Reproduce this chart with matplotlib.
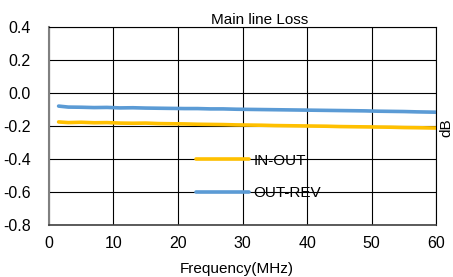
import numpy as np
import matplotlib.pyplot as plt

plt.rcParams['font.family'] = ['Liberation Sans', 'DejaVu Sans']

# 읽어낸 값 (MHz, dB)
freq = [1.5, 3, 5, 7, 9, 11, 13, 15, 17, 19, 21, 23, 25, 27, 29, 31, 33, 35,
        37, 39, 41, 43, 45, 47, 49, 51, 53, 55, 57, 60]
in_out = [-0.176, -0.180, -0.178, -0.181, -0.180, -0.183, -0.184, -0.183, -0.186,
          -0.187, -0.188, -0.190, -0.191, -0.192, -0.194, -0.195, -0.196, -0.198,
          -0.199, -0.200, -0.201, -0.202, -0.204, -0.205, -0.206, -0.207, -0.208,
          -0.210, -0.211, -0.213]
out_rev = [-0.080, -0.086, -0.087, -0.089, -0.088, -0.091, -0.090, -0.092, -0.093,
           -0.094, -0.095, -0.095, -0.097, -0.097, -0.099, -0.100, -0.101, -0.102,
           -0.103, -0.104, -0.105, -0.106, -0.107, -0.108, -0.109, -0.111, -0.112,
           -0.113, -0.115, -0.117]

x_ticks = [0, 10, 20, 30, 40, 50, 60]
y_ticks = [-0.8, -0.6, -0.4, -0.2, 0.0, 0.2, 0.4]

fig = plt.figure(figsize=(4.53, 2.77), dpi=100)
ax = fig.add_axes([0.108, 0.188, 0.855, 0.715])

ax.plot(freq, in_out, color='#FFC000', lw=2.6, label='IN-OUT', solid_capstyle='round')
ax.plot(freq, out_rev, color='#5B9BD5', lw=2.6, label='OUT-REV', solid_capstyle='round')

ax.set_xlim(0, 60)
ax.set_ylim(-0.8, 0.4)
ax.set_xticks(x_ticks)
ax.set_yticks(y_ticks)
ax.set_yticklabels([f'{v:.1f}' for v in y_ticks])
ax.grid(True, color='black', lw=0.8)
ax.set_axisbelow(True)
ax.tick_params(axis='y', length=0, labelsize=11.5, pad=13)
ax.tick_params(axis='x', length=0, labelsize=11.5, pad=8)

for side in ['top', 'right']:
    ax.spines[side].set_color('black')
    ax.spines[side].set_linewidth(0.8)
ax.spines['left'].set_color('#808080')
ax.spines['left'].set_linewidth(1.5)
ax.spines['bottom'].set_color('#404040')
ax.spines['bottom'].set_linewidth(1.2)

ax.set_title('Main line Loss', fontsize=11, pad=2, x=0.545)
ax.set_xlabel('Frequency(MHz)', fontsize=11, labelpad=8, x=0.485)
fig.text(0.986, 0.54, 'dB', rotation=90, fontsize=11, ha='center', va='center')

leg = ax.legend(loc='lower left', bbox_to_anchor=(0.36, 0.085), frameon=False,
                fontsize=11, handlelength=3.5, handletextpad=0.25, labelspacing=1.22,
                borderpad=0)

fig.savefig('out.png', dpi=100)
